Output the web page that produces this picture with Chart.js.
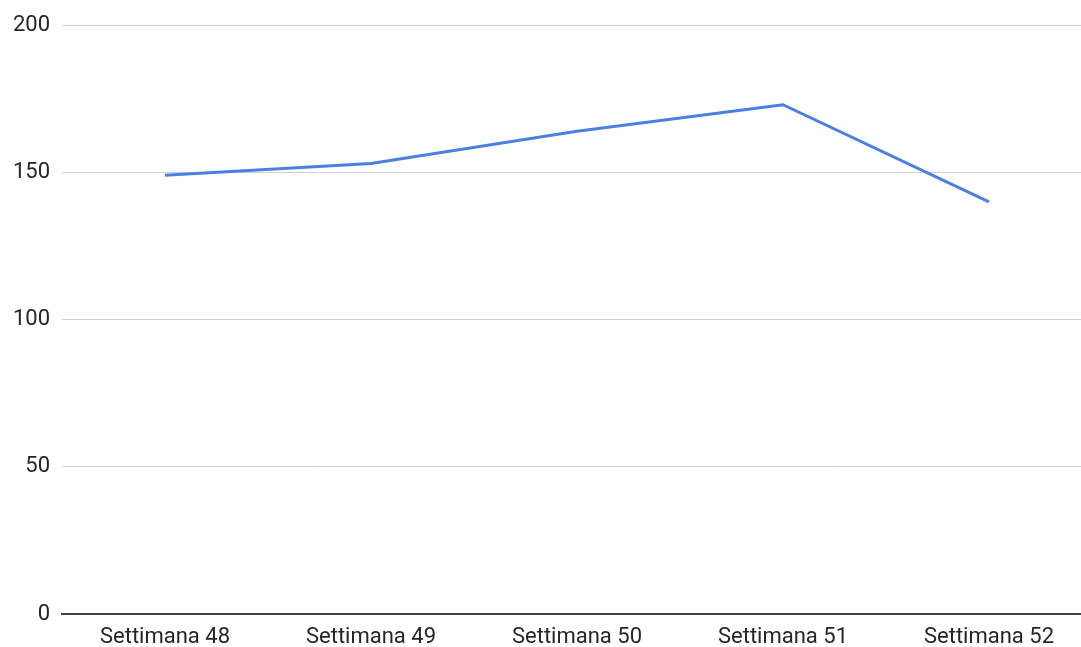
<!DOCTYPE html>
<html>
<head>
<meta charset="utf-8">
<script src="https://cdn.jsdelivr.net/npm/chart.js@4"></script>
<style>
  html, body { margin: 0; padding: 0; background: #fff; overflow: hidden; }
  #wrap { width: 1092px; height: 647px; position: relative; }
</style>
</head>
<body>
<div id="wrap"><canvas id="chart"></canvas></div>
<script>
// Weekly counts
const categories = ['Settimana 48', 'Settimana 49', 'Settimana 50', 'Settimana 51', 'Settimana 52'];
const values = [149, 153, 164, 173, 140];
const yTicks = [0, 50, 100, 150, 200];

const FONT = 'Roboto, "Liberation Sans", Arial, sans-serif';

new Chart(document.getElementById('chart'), {
  type: 'line',
  data: {
    labels: categories,
    datasets: [{
      data: values,
      borderColor: '#4a80e2',
      borderWidth: 3,
      pointRadius: 0,
      pointHoverRadius: 0,
      tension: 0,
      fill: false
    }]
  },
  options: {
    responsive: true,
    maintainAspectRatio: false,
    animation: false,
    layout: { padding: { top: 14, right: 0, left: 0, bottom: 0 } },
    plugins: { legend: { display: false }, tooltip: { enabled: false } },
    scales: {
      x: {
        offset: true,
        grid: { display: false, drawTicks: false },
        border: { display: true, color: '#444', width: 2 },
        ticks: {
          color: '#262626',
          font: { family: FONT, size: 22 },
          padding: 10,
          maxRotation: 0,
          autoSkip: false
        },
        afterFit: (s) => { s.height = 33; }
      },
      y: {
        min: 0,
        max: 200,
        afterBuildTicks: (s) => { s.ticks = yTicks.map(v => ({ value: v })); },
        grid: { color: '#d0d0d0', lineWidth: 1, drawTicks: false },
        border: { display: false },
        ticks: {
          color: '#262626',
          font: { family: FONT, size: 22 },
          padding: 12
        },
        afterFit: (s) => { s.width = 62; }
      }
    }
  }
});
</script>
</body>
</html>
